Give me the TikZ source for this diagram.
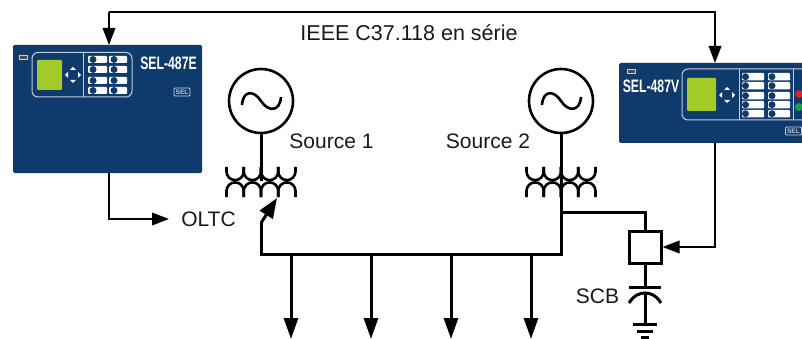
\documentclass[tikz,border=0pt]{standalone}
\usepackage{fontspec}
\setmainfont{Liberation Sans}
\usetikzlibrary{arrows.meta,calc}
\definecolor{relayblue}{HTML}{0F3A6C}
\definecolor{lcd}{HTML}{A2CB2A}
\definecolor{panelline}{HTML}{C3CFDC}
\definecolor{ledred}{HTML}{E0202A}
\definecolor{ledgreen}{HTML}{18A048}
\tikzset{
 lbl/.style={font=\fontsize{21}{24}\selectfont,text=black!90,inner sep=0pt},
 relaybody/.style={fill=relayblue,rounded corners=1.5pt,draw=none},
 panel/.style={draw=panelline,line width=1pt,rounded corners=6pt},
 lcdscreen/.style={fill=lcd,rounded corners=1pt},
 power/.style={line width=3pt,black},
 signal/.style={line width=2pt,black},
 sigtip/.style={-{Triangle[length=17pt,width=12.5pt]}},
 reltext/.style={font=\fontsize{18}{20}\bfseries\selectfont,text=white,inner sep=0pt,xscale=.68},
 sellogo/.style={draw=panelline,line width=.9pt,rounded corners=1pt,text=panelline,inner sep=0pt,minimum width=16pt,minimum height=8pt,font=\fontsize{6.5}{7}\bfseries\selectfont},
 btn/.style={fill=white,rounded corners=1pt},
 navtip/.style={fill=white,draw=none},
}
\newcommand{\navpad}[1]{%
 \fill[navtip] ($(#1)+(0,-8)$)--++(-3,3)--++(6,0)--cycle;
 \fill[navtip] ($(#1)+(0,8)$)--++(-3,-3)--++(6,0)--cycle;
 \fill[navtip] ($(#1)+(-8,0)$)--++(3,-3)--++(0,6)--cycle;
 \fill[navtip] ($(#1)+(8,0)$)--++(-3,-3)--++(0,6)--cycle;}
\newcommand{\gensine}[1]{%
 \draw[line width=2.6pt] ($(#1.center)+(-19,4)$) .. controls ($(#1.center)+(-18,-11)$) and ($(#1.center)+(-7,-11)$) .. (#1.center) .. controls ($(#1.center)+(7,11)$) and ($(#1.center)+(19,11)$) .. ($(#1.center)+(20,-4)$);}
\newcommand{\trafo}[1]{%
 \foreach \k in {0,1,2,3}{
  \draw[line width=2.6pt] ($(#1)+(-34.5+17.25*\k,-14)$) -- ++(0,4.5) arc[start angle=180,end angle=360,radius=8.625pt] -- ++(0,-4.5);
  \draw[line width=2.6pt] ($(#1)+(-34.5+17.25*\k,16)$) -- ++(0,-6) arc[start angle=180,end angle=0,radius=8.625pt] -- ++(0,6);
 }}
\begin{document}
\begin{tikzpicture}[x=1pt,y=-1pt]
\useasboundingbox (0,0) rectangle (802,339);
% relay E
\node[relaybody,minimum width=189pt,minimum height=128pt,inner sep=0pt] (relE) at (107.5,109) {};
\fill[fill=black!70,draw=panelline,line width=.4pt] (19.5,55) rectangle (27.5,59);
\draw[panel] (32,52.5) rectangle (132,97);
\draw[panelline,line width=1pt] (83,52.5) -- (83,97);
\fill[lcdscreen] (37,60) rectangle (62,90);
\coordinate (navE) at (73,75);
\navpad{navE}
\foreach \y in {56,66,77,87}{
 \fill[btn] (88,\y) rectangle (107,\y+7);
 \fill[relayblue] (93,\y+3.5) circle (3.5);
 \fill[btn] (109,\y) rectangle (127,\y+7);
 \fill[relayblue] (114,\y+3.5) circle (3.5);
}
\node[reltext] (nameE) at (168.5,63) {SEL-487E};
\node[sellogo] (logoE) at (182,92) {SEL};
% relay V
\begin{scope}
\clip (0,0) rectangle (802,339);
\fill[relaybody] (619,63) rectangle (812,143);
\draw[panel] (682,69) rectangle (815,120);
\draw[panelline,line width=1pt] (739.5,69) -- (739.5,120);
\draw[panelline,line width=1pt] (793.5,69) -- (793.5,120);
\fill[lcdscreen] (687,78) rectangle (716,111);
\coordinate (navV) at (727,95);
\navpad{navV}
\foreach \y in {73,82,92,101,110}{
 \fill[btn] (742,\y) rectangle (764,\y+7.5);
 \fill[relayblue] (745.5,\y+3.7) circle (3.5);
 \fill[btn] (768,\y) rectangle (790,\y+7.5);
 \fill[relayblue] (772,\y+3.7) circle (3.5);
}
\fill[ledred] (799,94) circle (4);
\fill[ledgreen] (799,107) circle (4);
\fill[fill=black!70,draw=panelline,line width=.4pt] (627.5,69) rectangle (635.5,73);
\node[sellogo,anchor=west] (logoV) at (785,131) {SEL};
\end{scope}
\node[reltext] (nameV) at (651,86) {SEL-487V};
% anchors
\coordinate (relEtop) at (109,45);
\coordinate (relEbot) at (109,173);
\coordinate (relVtop) at (715,63);
\coordinate (relVbot) at (715,143);
\coordinate (topL) at (109,12);
\coordinate (topR) at (715,12);
\coordinate (oltcin) at (169,219);
% labels
\node[lbl,font=\fontsize{21.5}{24}\selectfont] (ieee) at (409,33) {IEEE C37.118 en série};
\node[lbl] (s1) at (331.5,141) {Source 1};
\node[lbl] (s2) at (488,141) {Source 2};
\node[lbl] (oltc) at (208.5,219) {OLTC};
\node[lbl] (scb) at (597.5,296) {SCB};
% signal lines
\draw[signal,sigtip] (topL) -- (relEtop);
\draw[signal,sigtip] (topL) -- (topR) -- (relVtop);
\draw[signal,sigtip] (relEbot) |- (oltcin);
% generators
\node[circle,draw,line width=2.6pt,minimum size=64pt,inner sep=0pt] (g1) at (261,101) {};
\node[circle,draw,line width=2.6pt,minimum size=64pt,inner sep=0pt] (g2) at (561,101) {};
\gensine{g1}\gensine{g2}
\coordinate (t1) at (261,181);
\coordinate (t2) at (561,181);
\trafo{t1}\trafo{t2}
\draw[power] (g1.south) -- (t1);
\draw[power] (g2.south) -- (t2);
% bus
\coordinate (busL) at (261,254);
\coordinate (busR) at (561,254);
\coordinate (tapK) at (261,223);
\coordinate (tapTip) at (277,198);
\draw[power,line join=miter] (tapK) -- (busL) -- (busR) -- (t2);
\draw[power,-{Triangle[length=20pt,width=15pt]}] (tapK) -- (tapTip);
\foreach \x/\n in {291/a,371/b,451/c,531/d}{
 \coordinate (f\n) at (\x,254);
 \coordinate (e\n) at (\x,339);
 \draw[power,-{Triangle[length=21pt,width=14pt]}] (f\n) -- (e\n);
}
% switch box and capacitor
\node[draw,line width=3pt,minimum width=32pt,minimum height=32pt,inner sep=0pt] (sw) at (645,247) {};
\coordinate (tee) at (561,212);
\draw[power] (tee) -| (sw.north);
\draw[signal,sigtip] (relVbot) |- (sw.east);
\coordinate (capA) at (645,287);
\coordinate (capB) at (645,293);
\coordinate (gnd) at (645,324);
\draw[power] (sw.south) -- (capA);
\draw[power] (629,287) -- (661,287);
\draw[power] (629,303) .. controls (634,295) and (640,293) .. (capB) .. controls (650,293) and (656,295) .. (661,303);
\draw[power] (capB) -- (gnd);
\draw[power] (633,324) -- (657,324);
\draw[power] (637,331) -- (653,331);
\draw[power] (641,337.5) -- (649,337.5);
\end{tikzpicture}
\end{document}
